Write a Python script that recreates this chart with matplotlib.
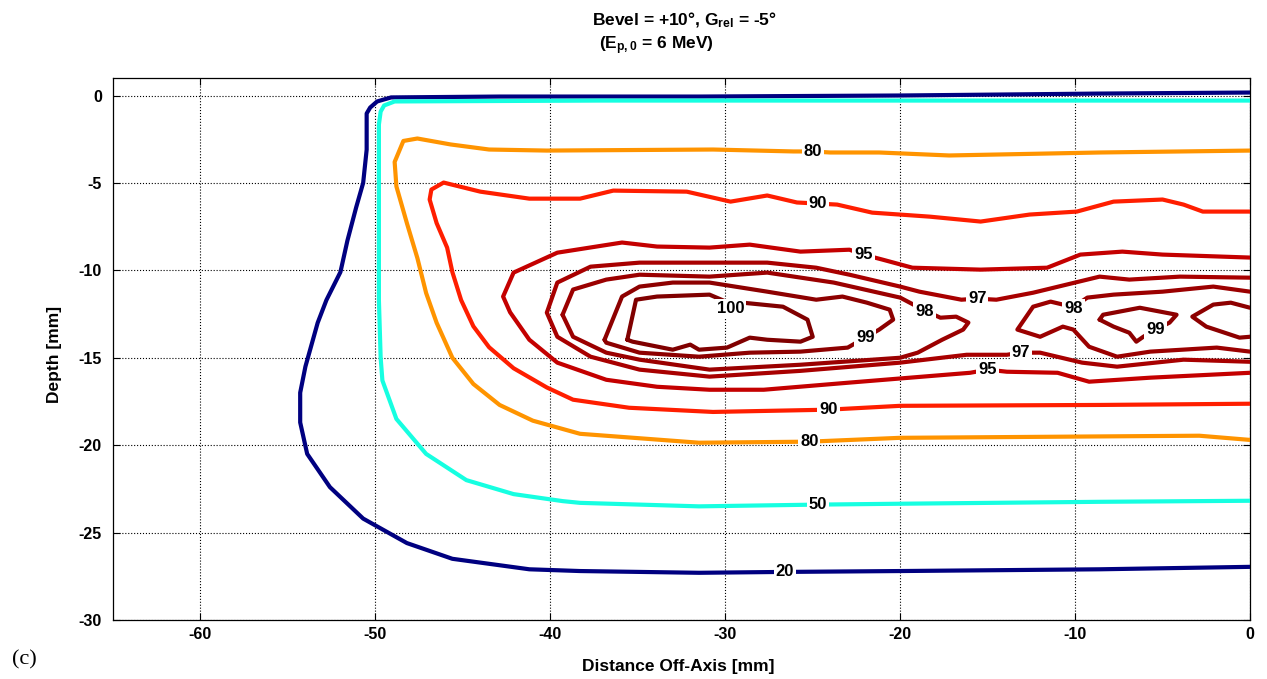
import numpy as np
import matplotlib.pyplot as plt
from matplotlib import cm
from matplotlib.colors import Normalize

plt.rcParams['font.family'] = ['Liberation Sans', 'DejaVu Sans']
plt.rcParams['font.weight'] = 'bold'
plt.rcParams['axes.unicode_minus'] = False
plt.rcParams['mathtext.fontset'] = 'custom'
plt.rcParams['mathtext.rm'] = 'Liberation Sans:bold'
plt.rcParams['mathtext.it'] = 'Liberation Sans:bold'
plt.rcParams['mathtext.bf'] = 'Liberation Sans:bold'

# isodose lines: x = distance off-axis [mm], y = depth [mm]
x20 = [0, -8.6, -20.0, -31.5, -42.9, -49.1, -49.9, -50.3, -50.5, -50.5, -50.7, -51.1, -51.6,
       -52.0, -52.8, -53.3, -54.0, -54.3, -54.3, -53.9, -52.6, -50.7, -48.2, -45.6, -41.2,
       -38.3, -31.5, -26.6, -20.0, -8.6, 0]
y20 = [0.17, 0.11, 0.0, -0.06, -0.06, -0.11, -0.34, -0.69, -1.03, -3.1, -5.0, -6.4, -8.3,
       -10.1, -11.7, -13.0, -15.5, -17.0, -18.7, -20.5, -22.4, -24.2, -25.6, -26.5, -27.1,
       -27.2, -27.3, -27.25, -27.2, -27.1, -26.96]

x50 = [0, -20.0, -37.2, -48.9, -49.5, -49.7, -49.8, -49.8, -49.8, -49.7, -49.6, -48.8, -47.1,
       -44.8, -42.1, -39.3, -38.3, -31.5, -24.7, -20.0, -8.6, 0]
y50 = [-0.29, -0.29, -0.29, -0.34, -0.57, -0.92, -1.66, -5.95, -11.7, -15.0, -16.3, -18.5,
       -20.5, -22.0, -22.8, -23.2, -23.3, -23.5, -23.4, -23.35, -23.24, -23.18]

x80 = [0, -8.6, -17.2, -21.2, -24.0, -25.0, -26.1, -30.7, -40.2, -43.5, -45.7, -47.6, -48.4,
       -48.9, -48.8, -48.2, -47.6, -47.1, -46.5, -45.6, -44.4, -42.9, -41.0, -38.3, -31.5,
       -25.2, -20.0, -8.6, -2.9, 0]
y80 = [-3.15, -3.26, -3.43, -3.26, -3.26, -3.2, -3.2, -3.09, -3.15, -3.09, -2.8, -2.46, -2.6,
       -3.8, -5.2, -7.3, -9.3, -11.3, -13.0, -15.0, -16.5, -17.7, -18.6, -19.35, -19.86,
       -19.8, -19.58, -19.5, -19.46, -19.7]

x90 = [0, -2.7, -3.8, -5.0, -7.8, -9.9, -12.6, -15.4, -18.3, -21.6, -23.6, -24.7, -25.9, -27.6,
       -29.7, -32.2, -36.4, -38.3, -41.2, -44.0, -46.1, -46.8, -46.9, -46.5, -45.9, -45.6,
       -45.1, -44.4, -43.5, -42.1, -40.2, -38.7, -35.5, -30.7, -24.1, -20.0, -8.6, 0]
y90 = [-6.64, -6.64, -6.24, -5.95, -6.07, -6.64, -6.81, -7.21, -6.93, -6.7, -6.24, -6.18, -6.12,
       -5.72, -6.07, -5.5, -5.44, -5.9, -5.9, -5.5, -4.98, -5.38, -5.95, -7.3, -8.7, -10.1,
       -11.7, -13.2, -14.4, -15.6, -16.7, -17.4, -17.86, -18.1, -17.97, -17.75, -17.7, -17.63]

x95 = [0, -5.0, -7.3, -9.7, -11.6, -15.4, -19.3, -21.0, -22.1, -22.9, -25.7, -28.6, -30.9,
       -33.9, -35.9, -39.6, -42.1, -42.7, -42.3, -41.2, -39.6, -36.8, -33.9, -30.9, -27.8,
       -23.0, -16.0, -15.0, -13.9, -11.0, -9.2, -5.7, 0]
y95 = [-9.27, -9.1, -8.93, -9.1, -9.85, -9.96, -9.85, -9.39, -9.1, -8.82, -8.93, -8.53, -8.7,
       -8.64, -8.41, -8.99, -10.13, -11.5, -12.4, -13.97, -15.28, -16.26, -16.66, -16.83, -16.83,
       -16.43, -15.86, -15.68, -15.8, -15.86, -16.37, -16.14, -15.86]

x97 = [0, -4.0, -6.9, -8.6, -10.5, -12.4, -14.5, -15.6, -16.5, -18.9, -20.0, -22.9, -24.8,
       -27.6, -30.9, -34.9, -37.7, -39.6, -40.2, -39.6, -37.7, -34.9, -30.9, -25.7, -20.0,
       -16.2, -13.9, -13.1, -12.0, -9.6, -7.6, -3.8, 0]
y97 = [-10.42, -10.36, -10.53, -10.36, -10.82, -11.28, -11.68, -11.62, -11.68, -11.22, -10.93,
       -10.25, -9.85, -9.56, -9.56, -9.56, -9.79, -10.7, -12.42, -13.8, -14.94, -15.68, -16.08,
       -15.75, -15.28, -14.83, -14.83, -14.71, -14.71, -15.28, -15.51, -15.11, -15.23]

x98a = [-39.3, -38.7, -36.8, -34.9, -30.9, -27.6, -23.8, -20.0, -18.6, -17.7, -16.8, -16.1,
        -16.4, -17.6, -19.0, -20.0, -25.7, -30.9, -34.9, -36.8, -38.7, -39.3]
y98a = [-12.54, -11.1, -10.53, -10.25, -10.36, -10.13, -10.7, -11.56, -12.3, -12.71, -12.65,
        -12.99, -13.39, -13.97, -14.71, -15.0, -15.4, -15.68, -15.11, -14.71, -13.8, -12.54]

x98b = [0, -2.1, -5.0, -7.8, -9.3, -10.1, -11.4, -12.4, -13.3, -12.0, -10.7, -10.1, -9.2,
        -7.6, -5.7, -1.9, 0]
y98b = [-11.22, -10.93, -11.22, -11.39, -11.56, -12.1, -11.79, -12.08, -13.39, -13.8, -13.22,
        -13.39, -14.37, -14.94, -14.65, -14.42, -14.65]

x99a = [-36.9, -35.9, -34.9, -33.0, -30.9, -27.6, -24.8, -23.3, -21.9, -20.6, -20.4, -21.2,
        -22.0, -23.0, -25.7, -28.6, -31.5, -34.9, -36.8, -36.9]
y99a = [-13.97, -11.5, -10.93, -10.7, -10.7, -11.22, -11.68, -11.5, -11.85, -12.25, -12.82,
        -13.39, -13.85, -14.42, -14.65, -14.71, -14.94, -14.71, -14.14, -13.97]

x99b = [-8.6, -8.4, -6.3, -4.2, -4.6, -5.4, -6.1, -6.5, -6.9, -7.8, -8.6]
y99b = [-12.82, -12.54, -12.14, -12.54, -12.99, -13.39, -13.8, -14.08, -13.57, -13.22, -12.82]

x99c = [0, -1.1, -2.1, -3.3, -2.5, -0.6, 0]
y99c = [-12.14, -11.85, -11.96, -12.65, -13.22, -13.85, -13.8]

x100 = [-35.6, -35.1, -33.9, -30.9, -29.7, -29.0, -26.7, -25.3, -25.0, -25.7, -27.6, -28.6,
        -29.9, -31.5, -32.0, -33.0, -35.3, -35.6]
y100 = [-13.97, -11.68, -11.5, -11.39, -11.9, -11.85, -12.08, -12.82, -13.8, -14.08, -13.97,
        -13.85, -14.42, -14.54, -14.25, -14.54, -14.08, -13.97]

lines = [(20, x20, y20), (50, x50, y50), (80, x80, y80), (90, x90, y90), (95, x95, y95),
         (97, x97, y97), (98, x98a, y98a), (98, x98b, y98b), (99, x99a, y99a),
         (99, x99b, y99b), (99, x99c, y99c), (100, x100, y100)]

# inline labels (level, x, y)
lab_lev = [20, 50, 80, 80, 90, 90, 95, 95, 97, 97, 98, 98, 99, 99, 100]
lab_x = [-26.6, -24.7, -25.0, -25.2, -24.7, -24.1, -22.1, -15.0, -15.6, -13.1, -18.6, -10.1,
         -22.0, -5.4, -29.7]
lab_y = [-27.25, -23.4, -3.2, -19.8, -6.18, -17.97, -9.1, -15.68, -11.62, -14.71, -12.36,
         -12.2, -13.85, -13.39, -12.2]

norm = Normalize(20, 100)

fig = plt.figure(figsize=(12.67, 6.79), dpi=100)
ax = fig.add_axes([0.0892, 0.0869, 0.8974, 0.7982])

for lev, xs, ys in lines:
    ax.plot(xs, ys, color=cm.jet(norm(lev)), lw=3, solid_capstyle='round',
            solid_joinstyle='round', zorder=3)

for lev, lx, ly in zip(lab_lev, lab_x, lab_y):
    ax.text(lx, ly, str(lev), ha='center', va='center', fontsize=12, fontweight='bold',
            zorder=5, bbox=dict(facecolor='white', edgecolor='none', pad=1.5))

ax.set_xlim(-65, 0)
ax.set_ylim(-30, 1)
ax.set_xticks(np.arange(-60, 1, 10))
ax.set_yticks(np.arange(-30, 1, 5))
ax.grid(True, linestyle=':', color='black', linewidth=0.8)
ax.set_axisbelow(True)
ax.tick_params(direction='in', top=True, right=True, length=5, labelsize=11.5)
ax.tick_params(axis='y', pad=8)
ax.tick_params(axis='x', pad=5)
for s in ax.spines.values():
    s.set_linewidth(0.9)

ax.set_xlabel('Distance Off-Axis [mm]', fontsize=12.5, fontweight='bold')
ax.set_ylabel('Depth [mm]', fontsize=12.5, fontweight='bold')
ax.xaxis.set_label_coords(0.497, -0.072)
ax.yaxis.set_label_coords(-0.045, 0.49)

fig.text(684 / 1267, 1 - 20 / 679, 'Bevel = +10°, G$_{\\mathrm{rel}}$ = -5°', ha='center',
         va='center', fontsize=12.5, fontweight='bold')
fig.text(656 / 1267, 1 - 46 / 679, '(E$_{\\mathrm{p,0}}$ = 6 MeV)', ha='center',
         va='center', fontsize=12.5, fontweight='bold')
fig.text(12 / 1267, 1 - 660 / 679, '(c)', ha='left', va='center', fontsize=16,
         family=['Liberation Serif', 'DejaVu Serif'], fontweight='normal')

fig.savefig('out.png', dpi=100)
